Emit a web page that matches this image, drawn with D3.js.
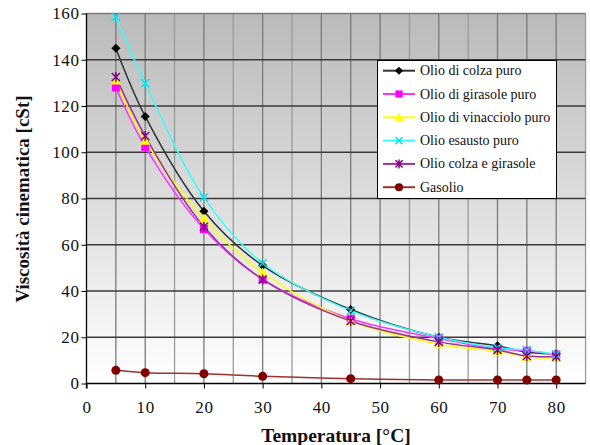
<!DOCTYPE html>
<html>
<head>
<meta charset="utf-8">
<script src="https://cdn.jsdelivr.net/npm/d3@7"></script>
<style>
body { margin: 0; background: #fff; }
svg { display: block; }
</style>
</head>
<body>
<svg id="chart" width="590" height="445"></svg>
<script>
const temps = [5, 10, 20, 30, 45, 60, 70, 75, 80];
const colza = [145, 115.5, 74.5, 51, 32, 20, 16.3, 13.5, 12.8];
const girasole = [128, 102.3, 66.8, 45, 28, 19.5, 15, 14.2, 12.5];
const vinacciolo = [131, 105, 71.4, 48, 27, 17, 14, 11.5, 11];
const esausto = [158.5, 129.8, 80.4, 52, 31.5, 20, 15.5, 14.4, 12.6];
const colzaGirasole = [132.5, 107, 67.8, 45, 27, 18, 14.5, 11.9, 11.6];
const gasolio = [5.7, 4.7, 4.2, 3.1, 2.1, 1.5, 1.5, 1.5, 1.5];
const seriesNames = ["Olio di colza puro", "Olio di girasole puro", "Olio di vinacciolo puro", "Olio esausto puro", "Olio colza e girasole", "Gasolio"];
const xTicks = [0, 10, 20, 30, 40, 50, 60, 70, 80];
const yTicks = [0, 20, 40, 60, 80, 100, 120, 140, 160];

(function () {
const FONT = "'Liberation Serif', 'Times New Roman', serif";
const series = [
  {name: seriesNames[0], values: colza, color: "#333333", mcolor: "#000000", marker: "diamond"},
  {name: seriesNames[1], values: girasole, color: "#ff33ff", mcolor: "#ff00ff", marker: "square"},
  {name: seriesNames[2], values: vinacciolo, color: "#ffff00", mcolor: "#ffff00", marker: "triangle"},
  {name: seriesNames[3], values: esausto, color: "#33ffff", mcolor: "#00e5ee", marker: "x"},
  {name: seriesNames[4], values: colzaGirasole, color: "#993399", mcolor: "#800080", marker: "star"},
  {name: seriesNames[5], values: gasolio, color: "#993333", mcolor: "#800000", marker: "circle"}
];

const svg = d3.select("#chart");
const pLeft = 86.5, pTop = 13.5, pBottom = 383.5;
const x = d3.scaleLinear().domain([0, 85]).range([pLeft, pLeft + (555.7 - 86) / 80 * 85]);
const y = d3.scaleLinear().domain([0, 160]).range([pBottom, pTop]);

const defs = svg.append("defs");
const grad = defs.append("linearGradient").attr("id", "bg").attr("x1", 0).attr("y1", 0).attr("x2", 0).attr("y2", 1);
grad.append("stop").attr("offset", "0%").attr("stop-color", "#bababa");
grad.append("stop").attr("offset", "100%").attr("stop-color", "#ffffff");

svg.append("rect").attr("x", pLeft).attr("y", pTop).attr("width", x(85) - pLeft).attr("height", pBottom - pTop).attr("fill", "url(#bg)");

// vertical grid every 5
const vGrid = d3.range(5, 86, 5);
svg.append("g").selectAll("line").data(vGrid).join("line")
  .attr("x1", d => x(d)).attr("x2", d => x(d)).attr("y1", pTop).attr("y2", pBottom)
  .attr("stroke", d => (d % 10 === 0 || [5, 45, 75].includes(d)) ? "#7a7a7a" : "#9a9a9a")
  .attr("stroke-width", 1.3);

// horizontal grid
svg.append("g").selectAll("line").data(yTicks.slice(1)).join("line")
  .attr("x1", pLeft).attr("x2", x(85)).attr("y1", d => y(d)).attr("y2", d => y(d))
  .attr("stroke", d => d === 160 ? "#7a7a7a" : "#3a3a3a").attr("stroke-width", 1.3);

// axes
const xAxis = d3.axisBottom(x).tickValues(xTicks).tickSize(5).tickPadding(12).tickFormat(d3.format("d"));
const gx = svg.append("g").attr("transform", `translate(0,${pBottom})`).call(xAxis);
gx.attr("font-family", FONT);
gx.select(".domain").attr("stroke", "#000").attr("stroke-width", 1.3).attr("d", `M${pLeft},0H${x(85)}`);
gx.selectAll(".tick line").attr("stroke", "#000");
gx.selectAll("text").attr("font-family", FONT).attr("font-size", 17).attr("letter-spacing", 0.6).attr("fill", "#111");

const yAxis = d3.axisLeft(y).tickValues(yTicks).tickSize(5).tickPadding(2);
const gy = svg.append("g").attr("transform", `translate(${pLeft},0)`).call(yAxis);
gy.attr("font-family", FONT);
gy.select(".domain").attr("stroke", "#000").attr("stroke-width", 1.3).attr("d", `M0,${pTop}V${pBottom + 5}`);
gy.selectAll(".tick line").attr("stroke", "#000");
gy.selectAll("text").attr("font-family", FONT).attr("font-size", 17).attr("letter-spacing", 0.6).attr("fill", "#111");

// lines
const line = d3.line().x(d => x(d[0])).y(d => y(d[1])).curve(d3.curveCatmullRom.alpha(0.5));

function drawMarker(g, type, cx, cy, color, s) {
  s = s || 1;
  if (type === "diamond") {
    g.append("path").attr("d", `M${cx},${cy - 4.5*s}L${cx + 4.5*s},${cy}L${cx},${cy + 4.5*s}L${cx - 4.5*s},${cy}Z`).attr("fill", color);
  } else if (type === "square") {
    g.append("rect").attr("x", cx - 4*s).attr("y", cy - 4*s).attr("width", 8*s).attr("height", 8*s).attr("fill", color);
  } else if (type === "triangle") {
    g.append("path").attr("d", `M${cx},${cy - 5*s}L${cx + 5*s},${cy + 4*s}L${cx - 5*s},${cy + 4*s}Z`).attr("fill", color);
  } else if (type === "x") {
    g.append("path").attr("d", `M${cx - 4*s},${cy - 4*s}L${cx + 4*s},${cy + 4*s}M${cx + 4*s},${cy - 4*s}L${cx - 4*s},${cy + 4*s}`).attr("stroke", color).attr("stroke-width", 1.5);
  } else if (type === "star") {
    g.append("path").attr("d", `M${cx - 4*s},${cy - 4*s}L${cx + 4*s},${cy + 4*s}M${cx + 4*s},${cy - 4*s}L${cx - 4*s},${cy + 4*s}M${cx},${cy - 5*s}L${cx},${cy + 5*s}`).attr("stroke", color).attr("stroke-width", 1.5);
  } else if (type === "circle") {
    g.append("circle").attr("cx", cx).attr("cy", cy).attr("r", 4.5*s).attr("fill", color);
  }
}

series.forEach(s => {
  const pts = temps.map((t, i) => [t, s.values[i]]);
  svg.append("path").datum(pts).attr("d", line).attr("fill", "none").attr("stroke", s.color).attr("stroke-width", 1.5);
});
series.forEach(s => {
  const g = svg.append("g");
  temps.forEach((t, i) => drawMarker(g, s.marker, x(t), y(s.values[i]), s.mcolor));
});

// legend
const lg = svg.append("g");
lg.append("rect").attr("x", 377.5).attr("y", 60.5).attr("width", 179).attr("height", 138).attr("fill", "#fff").attr("stroke", "#000").attr("stroke-width", 1);
series.forEach((s, i) => {
  const ly = 70.7 + i * 23.3;
  lg.append("line").attr("x1", 383).attr("x2", 415).attr("y1", ly).attr("y2", ly).attr("stroke", s.color).attr("stroke-width", 2);
  drawMarker(lg, s.marker, 399, ly, s.mcolor, 0.9);
  lg.append("text").attr("x", 420).attr("y", ly + 4.5).text(s.name)
    .attr("font-family", FONT).attr("font-size", 14).attr("fill", "#111");
});

// titles
svg.append("text").attr("x", 336).attr("y", 441.5).attr("text-anchor", "middle")
  .attr("font-family", FONT).attr("font-weight", "bold").attr("font-size", 19.5).attr("fill", "#111")
  .text("Temperatura [°C]");
svg.append("text").attr("transform", "translate(29,199) rotate(-90)").attr("text-anchor", "middle")
  .attr("font-family", FONT).attr("font-weight", "bold").attr("font-size", 19).attr("fill", "#111")
  .text("Viscosità cinematica [cSt]");
})();
</script>
</body>
</html>
